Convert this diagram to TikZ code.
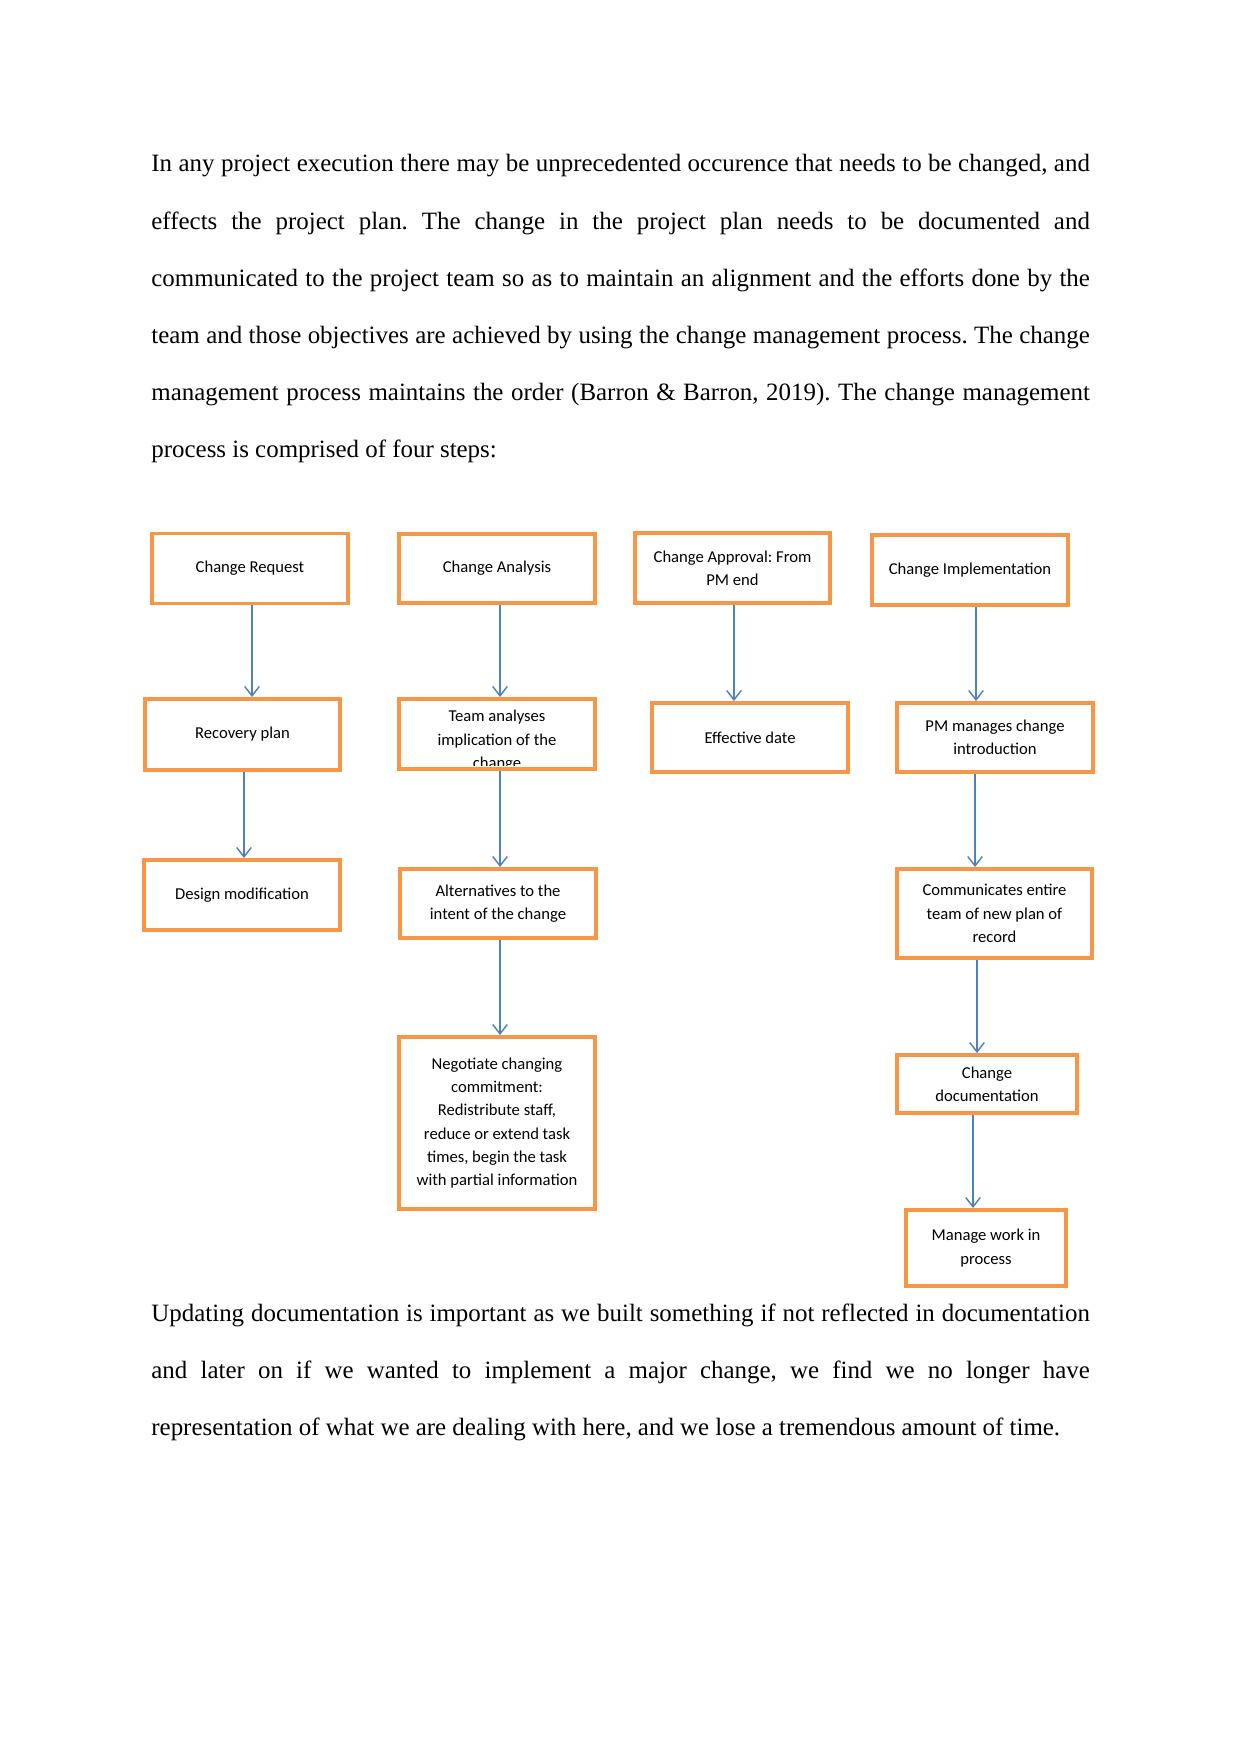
\documentclass[tikz,border=0pt]{standalone}
\usepackage{fontspec}
\setmainfont{Liberation Serif}
\newfontfamily\boxfont{Carlito}
\usetikzlibrary{arrows.meta}

\definecolor{boxorange}{HTML}{F79646}
\definecolor{flowblue}{HTML}{4F81BD}

\newcommand{\boxtext}{\boxfont\fontsize{8pt}{11.25pt}\selectfont\frenchspacing}
\newcommand{\bodytext}{\fontsize{12pt}{27.5pt}\selectfont\hyphenpenalty=10000\frenchspacing}

\tikzset{
  para/.style={anchor=base west, inner sep=0pt, text width=158.8mm, align=justify, font=\bodytext},
  stepbox/.style={draw=boxorange, line width=1.9pt, inner sep=0pt, align=center, font=\boxtext,
    minimum width=33.17mm, minimum height=11.85mm},
  flow/.style={draw=flowblue, line width=0.7pt, -{Straight Barb[length=4.5pt,width=7pt]}}
}

\begin{document}
\begin{tikzpicture}[x=0.169218mm, y=-0.169218mm]
  \useasboundingbox (0,0) rectangle (1241,1754);

  % text above
  \node[para] (intro) at (151,172) {In any project execution there may be unprecedented occurence that needs to be changed, and\linebreak
    effects the project plan. The change in the project plan needs to be documented and\linebreak
    communicated to the project team so as to maintain an alignment and the efforts done by the\linebreak
    team and those objectives are achieved by using the change management process. The change\linebreak
    management process maintains the order (Barron \& Barron, 2019). The change management\linebreak
    process is comprised of four steps:};

  % Change Request
  \node[stepbox] (req) at (250,568.5) {Change Request};
  \node[stepbox, minimum width=33mm, minimum height=12.01mm] (rec) at (242.5,734.5) {Recovery plan};
  \node[stepbox] (design) at (242,895) {Design modification};

  % Change Analysis
  \node[stepbox, minimum height=11.68mm] (ana) at (497,568.5) {Change Analysis};
  \node[stepbox] (team) at (497,734) {};
  \begin{scope}
    \clip (team.north west) rectangle ([yshift=1mm]team.south east);
    \node[inner sep=0pt, align=center, font=\boxtext] (teamtxt) at (497,741) {Team analyses\\implication of the\\change};
  \end{scope}
  \node[stepbox, minimum height=11.68mm] (alt) at (498,903.5) {Alternatives to the\\intent of the change};
  \node[stepbox, minimum height=29.1mm] (neg) at (497,1123) {Negotiate changing\\commitment:\\Redistribute staff,\\reduce or extend task\\times, begin the task\\with partial information};

  % Change Approval
  \node[stepbox, minimum width=33mm] (appr) at (732.5,568) {Change Approval: From\\PM end};
  \node[stepbox, minimum height=11.68mm] (eff) at (750,737.5) {Effective date};

  % Change Implementation
  \node[stepbox] (impl) at (970,570) {Change Implementation};
  \node[stepbox, minimum height=11.68mm] (pm) at (995,737.5) {PM manages change\\introduction};
  \node[stepbox, minimum width=33mm, minimum height=15.06mm] (comm) at (994.5,913.5) {Communicates entire\\team of new plan of\\record};
  \node[stepbox, minimum width=30.46mm, minimum height=9.81mm] (doc) at (987,1084) {Change\\documentation};
  \node[stepbox, minimum width=27.08mm, minimum height=12.86mm] (manage) at (986,1248) {Manage work in\\process};

  % arrows
  \coordinate (a1) at ([xshift=0.34mm]req.south);
  \coordinate (a2) at ([xshift=0.25mm]rec.south);
  \coordinate (b1) at ([xshift=0.51mm]ana.south);
  \coordinate (b2) at ([xshift=0.51mm]team.south);
  \coordinate (b3) at ([xshift=0.34mm]alt.south);
  \coordinate (c1) at ([xshift=0.25mm]appr.south);
  \coordinate (d1) at ([xshift=1.02mm]impl.south);
  \coordinate (d2) at ([xshift=-3.38mm]pm.south);
  \coordinate (d3) at ([xshift=-2.96mm]comm.south);
  \coordinate (d4) at ([xshift=-2.37mm]doc.south);
  \draw[flow] (a1) -- (a1 |- rec.north);
  \draw[flow] (a2) -- (a2 |- design.north);
  \draw[flow] (b1) -- (b1 |- team.north);
  \draw[flow] (b2) -- (b2 |- alt.north);
  \draw[flow] (b3) -- (b3 |- neg.north);
  \draw[flow] (c1) -- (c1 |- eff.north);
  \draw[flow] (d1) -- (d1 |- pm.north);
  \draw[flow] (d2) -- (d2 |- comm.north);
  \draw[flow] (d3) -- (d3 |- doc.north);
  \draw[flow] (d4) -- (d4 |- manage.north);

  % text below
  \node[para] (outro) at (151,1321.7) {Updating documentation is important as we built something if not reflected in documentation\linebreak
    and later on if we wanted to implement a major change, we find we no longer have\linebreak
    representation of what we are dealing with here, and we lose a tremendous amount of time.};
\end{tikzpicture}
\end{document}
